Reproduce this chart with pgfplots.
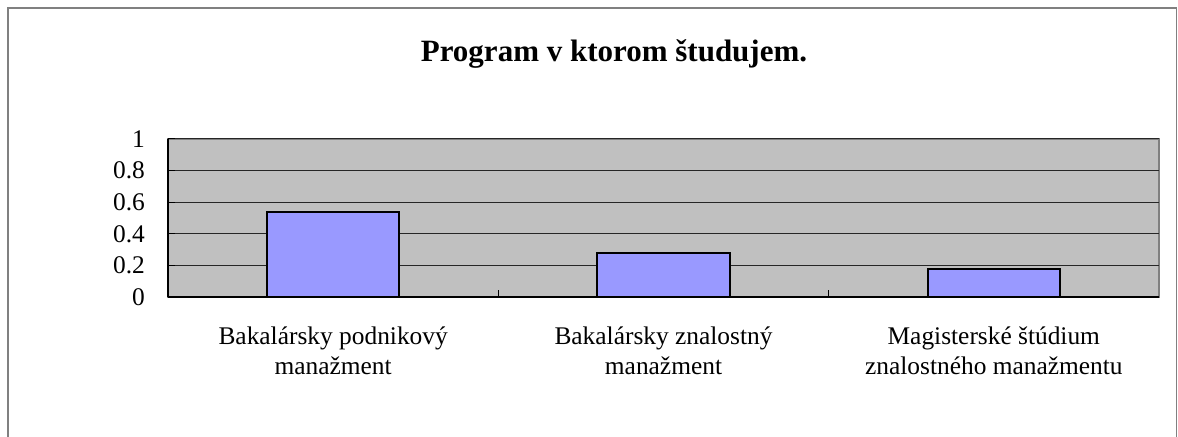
\documentclass[border=0pt]{standalone}
\usepackage{fontspec}
\setmainfont{Liberation Serif}
\usepackage{pgfplots}
\pgfplotsset{compat=1.18}
\definecolor{plotbg}{HTML}{C0C0C0}
\definecolor{barfill}{HTML}{9999FF}
\definecolor{frame}{HTML}{808080}
\begin{document}
\begin{tikzpicture}
\useasboundingbox (0,0) rectangle (589pt,218.5pt);
\draw[frame, line width=0.6pt] (4pt,-2pt) -- (4pt,214.5pt) -- (588.3pt,214.5pt) -- (588.3pt,-2pt);
\node[font=\fontsize{15.5}{18}\selectfont\bfseries] at (307pt,191.5pt) {Program v ktorom študujem.};
\begin{axis}[
  at={(84pt,70pt)}, anchor=south west,
  scale only axis, width=495.5pt, height=79pt,
  xmin=-0.5, xmax=2.5, ymin=0, ymax=1,
  ytick={0,0.2,0.4,0.6,0.8,1},
  yticklabels={0,0.2,0.4,0.6,0.8,1},
  xtick={0.5,1.5}, xticklabels={},
  extra x ticks={0,1,2},
  extra x tick labels={{Bakalársky podnikový\\manažment},{Bakalársky znalostný\\manažment},{Magisterské štúdium\\znalostného manažmentu}},
  extra x tick style={major tick length=0pt},
  axis x line*=bottom, axis y line*=left,
  axis line style={-, black, line width=0.6pt},
  tick align=inside, major tick length=3.5pt,
  tick style={black, line width=0.5pt},
  ymajorgrids, grid style={black!85, line width=0.5pt},
  axis background/.style={fill=plotbg, draw=frame, line width=0.8pt},
  tick label style={font=\fontsize{12.7}{15}\selectfont},
  /pgf/number format/assume math mode=true,
  yticklabel style={xshift=-8pt},
  xticklabel style={align=center, yshift=-11.5pt},
]
\addplot[ybar, bar width=0.4, fill=barfill, draw=black, line width=1pt] coordinates {(0,0.535) (1,0.28) (2,0.18)};
\end{axis}
\end{tikzpicture}
\end{document}
